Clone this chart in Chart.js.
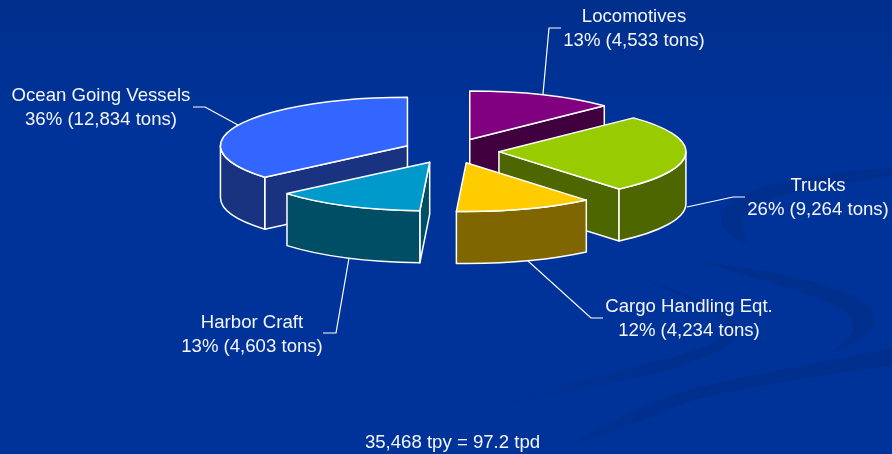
<!DOCTYPE html>
<html>
<head>
<meta charset="utf-8">
<title>Emissions by source</title>
<style>
    html, body { margin: 0; padding: 0; background: #003399; }
    canvas { display: block; }
</style>
<script src="https://cdn.jsdelivr.net/npm/chart.js@4"></script>
</head>
<body>
<canvas id="chart" width="892" height="454"></canvas>
<script>
const categories = ['Locomotives', 'Trucks', 'Cargo Handling Eqt.', 'Harbor Craft', 'Ocean Going Vessels'];
const tons = [4533, 9264, 4234, 4603, 12834];
const percentLabels = ['13%', '26%', '12%', '13%', '36%'];
const footer = '35,468 tpy = 97.2 tpd';

const TOP_COLORS = ['#800080', '#99CC00', '#FFCC00', '#0099CC', '#3366FF'];
const WALL_COLORS = ['#400040', '#4D6600', '#806600', '#004D66', '#1A3380'];

// back to front, so nearer slices paint over the walls behind them
const DRAW_ORDER = [4, 0, 1, 3, 2];
const TILT = 0.26;
const DEPTH = 52;
const EXPLODE = 48;

const LABEL_POS = [[634, 17], [818, 186], [689, 307], [252, 323], [101, 96]];
const LEADERS = [
    [[561, 28], [549, 28], [543, 94]],
    [[745, 197], [733, 197], [687, 207]],
    [[603, 318], [591, 318], [528, 261]],
    [[323, 333], [336, 333], [349, 258]],
    [[193, 107], [205, 107], [238, 125]],
];

const SWOOSHES = [
    'M892,168 C820,172 730,185 722,215 C718,230 735,240 752,245 C742,232 738,222 748,210 C765,195 830,185 892,176 Z',
    'M700,262 C780,270 870,290 875,316 C878,335 850,347 830,353 C848,342 858,330 850,318 C835,298 760,280 700,262 Z',
    'M577,258 C640,278 722,300 737,325 C745,342 715,355 673,369 C610,385 520,402 440,418 C520,395 610,372 673,357 C705,348 730,338 722,322 C710,302 640,278 577,258 Z',
    'M892,347 C830,362 760,372 707,385 C660,397 620,415 560,450 L540,454 C620,435 660,410 707,397 C760,385 830,375 892,365 Z',
];

const backdrop = {
    id: 'backdrop',
    beforeDraw(chart) {
        const { ctx, width, height } = chart;
        const grad = ctx.createLinearGradient(0, 0, 0, 120);
        grad.addColorStop(0, '#002F8C');
        grad.addColorStop(1, '#003399');
        ctx.save();
        ctx.fillStyle = grad;
        ctx.fillRect(0, 0, width, height);
        // the swooshes fade out towards the left
        const fade = ctx.createLinearGradient(450, 0, 680, 0);
        fade.addColorStop(0, '#003399');
        fade.addColorStop(1, '#002F8D');
        ctx.fillStyle = fade;
        SWOOSHES.forEach((d) => ctx.fill(new Path2D(d)));
        ctx.restore();
    },
};

const drawFace = (ctx, x, y, r, angle) => {
    const ex = x + Math.cos(angle) * r;
    const ey = y + Math.sin(angle) * r * TILT;
    ctx.beginPath();
    ctx.moveTo(x, y);
    ctx.lineTo(ex, ey);
    ctx.lineTo(ex, ey + DEPTH);
    ctx.lineTo(x, y + DEPTH);
    ctx.closePath();
    ctx.fill();
    ctx.stroke();
};

const drawSlice = (ctx, arc, index) => {
    const { x: cx, y: cy, startAngle, endAngle, outerRadius: r } = arc;
    const mid = (startAngle + endAngle) / 2;
    const x = cx + Math.cos(mid) * EXPLODE;
    const y = cy + Math.sin(mid) * EXPLODE * TILT;

    ctx.save();
    ctx.strokeStyle = '#FFFFFF';
    ctx.lineWidth = 1.5;
    ctx.lineJoin = 'round';
    ctx.fillStyle = WALL_COLORS[index];

    // cut faces, only the ones turned towards the viewer
    if (Math.cos(startAngle) < -1e-6) {
        drawFace(ctx, x, y, r, startAngle);
    }
    if (Math.cos(endAngle) > 1e-6) {
        drawFace(ctx, x, y, r, endAngle);
    }

    // only the front half of the rim can be seen
    const lo = Math.max(startAngle, 0);
    const hi = Math.min(endAngle, Math.PI);
    if (hi > lo) {
        ctx.beginPath();
        ctx.ellipse(x, y, r, r * TILT, 0, lo, hi);
        ctx.ellipse(x, y + DEPTH, r, r * TILT, 0, hi, lo, true);
        ctx.closePath();
        ctx.fill();
        ctx.stroke();
    }

    // the top is the library's own arc, squashed
    ctx.save();
    ctx.translate(x, y);
    ctx.scale(1, TILT);
    ctx.translate(-cx, -cy);
    arc.draw(ctx);
    ctx.restore();

    ctx.beginPath();
    ctx.moveTo(x, y);
    ctx.ellipse(x, y, r, r * TILT, 0, startAngle, endAngle);
    ctx.closePath();
    ctx.stroke();
    ctx.restore();
};

const pie3d = {
    id: 'pie3d',
    beforeDatasetDraw(chart, args) {
        const arcs = args.meta.data;
        DRAW_ORDER.forEach((i) => drawSlice(chart.ctx, arcs[i], i));
        return false;
    },
};

const calloutLabels = {
    id: 'calloutLabels',
    afterDraw(chart) {
        const { ctx } = chart;
        ctx.save();
        ctx.strokeStyle = '#FFFFFF';
        ctx.lineWidth = 1.2;
        LEADERS.forEach((pts) => {
            ctx.beginPath();
            pts.forEach(([px, py], i) => (i ? ctx.lineTo(px, py) : ctx.moveTo(px, py)));
            ctx.stroke();
        });
        ctx.fillStyle = '#F4F6FC';
        ctx.font = '18.6px "Liberation Sans", Arial, sans-serif';
        ctx.textAlign = 'center';
        ctx.textBaseline = 'middle';
        categories.forEach((name, i) => {
            const [lx, ly] = LABEL_POS[i];
            ctx.fillText(name, lx, ly);
            ctx.fillText(`${percentLabels[i]} (${tons[i].toLocaleString('en-US')} tons)`, lx, ly + 24);
        });
        ctx.fillText(footer, 452.5, 443);
        ctx.restore();
    },
};

new Chart(document.getElementById('chart'), {
    type: 'pie',
    data: {
        labels: categories,
        datasets: [{
            data: tons,
            backgroundColor: TOP_COLORS,
            borderWidth: 0,
        }],
    },
    options: {
        responsive: false,
        animation: false,
        radius: 187,
        layout: { padding: { left: 10, bottom: 152 } },
        plugins: { legend: { display: false }, tooltip: { enabled: false } },
    },
    plugins: [backdrop, pie3d, calloutLabels],
});
</script>
</body>
</html>
